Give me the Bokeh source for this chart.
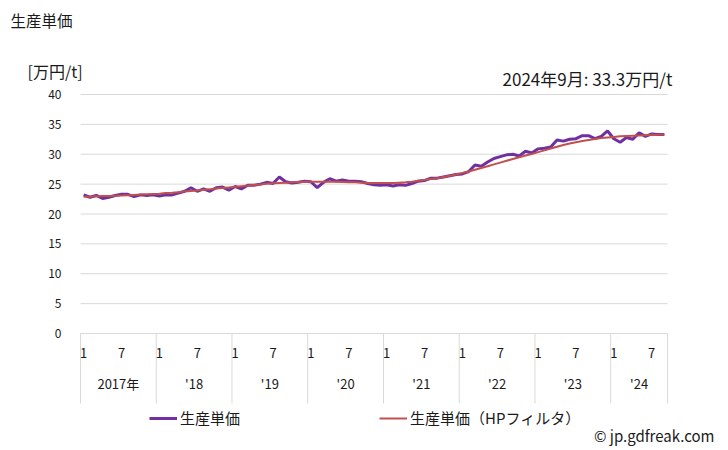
import numpy as np
from bokeh.plotting import figure
from bokeh.models import Range1d, Label, Legend, LegendItem
from bokeh.core.properties import value
from bokeh.embed import file_html
from bokeh.resources import INLINE

# ---- data (monthly, 2017-01 .. 2024-09) ----
unit_price = [
    23.2, 22.8, 23.1, 22.6, 22.8, 23.1, 23.3, 23.3, 22.9, 23.2, 23.1, 23.2,   # 2017
    23.0, 23.2, 23.2, 23.5, 23.8, 24.4, 23.8, 24.2, 23.8, 24.4, 24.5, 24.0,   # 2018
    24.6, 24.2, 24.8, 24.8, 25.0, 25.3, 25.1, 26.2, 25.4, 25.2, 25.3, 25.5,   # 2019
    25.4, 24.4, 25.3, 25.9, 25.5, 25.7, 25.5, 25.5, 25.4, 25.1, 24.9, 24.8,   # 2020
    24.9, 24.7, 24.9, 24.8, 25.1, 25.5, 25.6, 26.0, 26.0, 26.2, 26.4, 26.6,   # 2021
    26.7, 27.1, 28.2, 28.0, 28.7, 29.3, 29.6, 29.9, 30.0, 29.7, 30.5, 30.2,   # 2022
    30.9, 31.0, 31.2, 32.4, 32.2, 32.5, 32.6, 33.1, 33.1, 32.6, 33.0, 33.9,   # 2023
    32.6, 32.0, 32.8, 32.5, 33.6, 33.0, 33.4, 33.3, 33.3,                     # 2024
]
hp_trend = [
    22.9, 22.9, 22.95, 23.0, 23.0, 23.05, 23.1, 23.15, 23.2, 23.25, 23.3, 23.35,
    23.4, 23.5, 23.55, 23.65, 23.75, 23.85, 23.95, 24.05, 24.15, 24.25, 24.35, 24.45,
    24.55, 24.65, 24.75, 24.85, 24.95, 25.05, 25.15, 25.2, 25.25, 25.3, 25.35, 25.4,
    25.4, 25.4, 25.4, 25.4, 25.4, 25.35, 25.3, 25.3, 25.25, 25.2, 25.2, 25.2,
    25.2, 25.2, 25.25, 25.3, 25.4, 25.55, 25.7, 25.85, 26.0, 26.2, 26.4, 26.6,
    26.85, 27.1, 27.4, 27.7, 28.0, 28.3, 28.6, 28.9, 29.2, 29.5, 29.8, 30.05,
    30.35, 30.65, 30.95, 31.25, 31.55, 31.8, 32.0, 32.2, 32.4, 32.55, 32.7, 32.8,
    32.9, 33.0, 33.05, 33.1, 33.15, 33.2, 33.25, 33.25, 33.3,
]
start_year = 2017
year_labels = ["2017年", "'18", "'19", "'20", "'21", "'22", "'23", "'24"]
month_ticks = [1, 7]
y_ticks = [0, 5, 10, 15, 20, 25, 30, 35, 40]

title_text = "生産単価"
unit_text = "[万円/t]"
note_text = "2024年9月: 33.3万円/t"
series_names = ["生産単価", "生産単価（HPフィルタ）"]
credit_text = "© jp.gdfreak.com"

# ---- layout (plot area in canvas pixels) ----
FONT = "Noto Sans CJK JP"
TXT = "#1a1a1a"
GRID = "#d9d9d9"
PURPLE = "#7030A0"
RED = "#C0504D"
W, H = 728, 450
PLOT_L, PLOT_R, PLOT_T, PLOT_B = 80, 667, 94, 333
Y_MAX = 40.0

n = len(unit_price)
xs = np.arange(n) + 0.5
month_of = [(i % 12) + 1 for i in range(n)]

ppx = (PLOT_R - PLOT_L) / n          # pixels per month
ppy = (PLOT_B - PLOT_T) / Y_MAX      # pixels per unit
def px_to_x(px):
    return (px - PLOT_L) / ppx
def py_to_y(py):
    return (PLOT_B - py) / ppy

p = figure(width=W, height=H, title=None,
           x_range=Range1d(px_to_x(0), px_to_x(W)),
           y_range=Range1d(py_to_y(H), py_to_y(0)),
           output_backend="svg", toolbar_location=None,
           min_border_left=0, min_border_right=0,
           min_border_top=0, min_border_bottom=0)
p.xaxis.visible = False
p.yaxis.visible = False
p.grid.visible = False
p.outline_line_color = None
p.background_fill_color = "white"
p.border_fill_color = "white"

# ---- value grid and labels ----
p.segment(x0=[0] * len(y_ticks), y0=y_ticks, x1=[n] * len(y_ticks), y1=y_ticks,
          line_color=GRID, line_width=1)
p.text(x=[px_to_x(61)] * len(y_ticks), y=y_ticks, text=[str(t) for t in y_ticks],
       text_font=value(FONT), text_font_size="12px", text_color=TXT,
       text_align="right", text_baseline="middle")

# ---- category axis below the plot ----
sep_bottom = py_to_y(403)
month_lab_y = py_to_y(352)
year_lab_y = py_to_y(383)

bounds = list(range(0, n, 12)) + [n]
p.segment(x0=bounds, y0=[0] * len(bounds), x1=bounds, y1=[sep_bottom] * len(bounds),
          line_color=GRID, line_width=1)

mt_x = [xs[i] for i in range(n) if month_of[i] in month_ticks]
mt_t = [str(month_of[i]) for i in range(n) if month_of[i] in month_ticks]
p.text(x=mt_x, y=[month_lab_y] * len(mt_x), text=mt_t,
       text_font=value(FONT), text_font_size="13px", text_color=TXT,
       text_align="center", text_baseline="middle")

yl_x = [(bounds[k] + bounds[k + 1]) / 2 for k in range(len(year_labels))]
p.text(x=yl_x, y=[year_lab_y] * len(yl_x), text=year_labels,
       text_font=value(FONT), text_font_size="13px", text_color=TXT,
       text_align="center", text_baseline="middle")

# ---- series ----
r1 = p.line(xs, unit_price, line_color=PURPLE, line_width=3)
r2 = p.line(xs, hp_trend, line_color=RED, line_width=2)

legend = Legend(items=[LegendItem(label=series_names[0], renderers=[r1]),
                       LegendItem(label=series_names[1], renderers=[r2])],
                orientation="horizontal", location=(149, 22),
                glyph_width=28, glyph_height=14, label_standoff=3, spacing=139,
                padding=0, margin=0, border_line_color=None,
                background_fill_alpha=0,
                label_text_font=FONT, label_text_font_size="15px",
                label_text_color=TXT, label_height=16)
p.add_layout(legend)

# ---- texts ----
p.add_layout(Label(x=10, y=H - 19, x_units="screen", y_units="screen", text=title_text,
                   text_font=FONT, text_font_size="15.5px", text_color=TXT,
                   text_baseline="middle"))
p.add_layout(Label(x=27, y=H - 70, x_units="screen", y_units="screen", text=unit_text,
                   text_font=FONT, text_font_size="16px", text_color=TXT,
                   text_baseline="middle"))
p.add_layout(Label(x=672, y=H - 78, x_units="screen", y_units="screen", text=note_text,
                   text_font=FONT, text_font_size="17px", text_color=TXT,
                   text_baseline="middle", text_align="right"))
p.add_layout(Label(x=714, y=H - 435, x_units="screen", y_units="screen", text=credit_text,
                   text_font=FONT, text_font_size="15px", text_color=TXT,
                   text_baseline="middle", text_align="right"))

open("out.html", "w").write(file_html(p, INLINE))
